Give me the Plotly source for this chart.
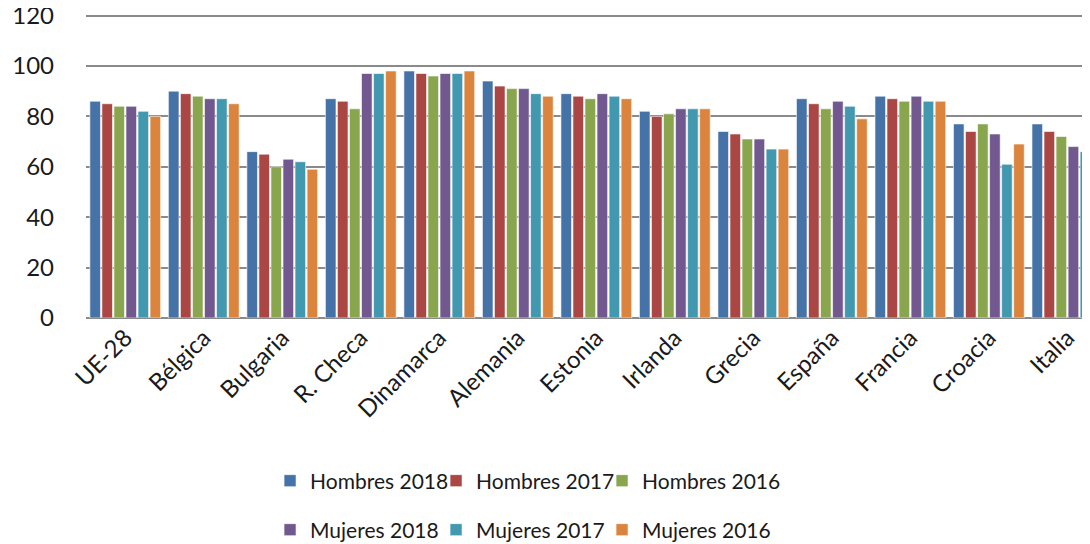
import plotly.graph_objects as go

categories = ["UE-28", "Bélgica", "Bulgaria", "R. Checa", "Dinamarca", "Alemania",
              "Estonia", "Irlanda", "Grecia", "España", "Francia", "Croacia", "Italia"]

hombres_2018 = [86, 90, 66, 87, 98, 94, 89, 82, 74, 87, 88, 77, 77]
hombres_2017 = [85, 89, 65, 86, 97, 92, 88, 80, 73, 85, 87, 74, 74]
hombres_2016 = [84, 88, 60, 83, 96, 91, 87, 81, 71, 83, 86, 77, 72]
mujeres_2018 = [84, 87, 63, 97, 97, 91, 89, 83, 71, 86, 88, 73, 68]
mujeres_2017 = [82, 87, 62, 97, 97, 89, 88, 83, 67, 84, 86, 61, 66]
mujeres_2016 = [80, 85, 59, 98, 98, 88, 87, 83, 67, 79, 86, 69, 62]

series = [
    ("Hombres 2018", hombres_2018, "#4572A7", "legend"),
    ("Hombres 2017", hombres_2017, "#AA4643", "legend"),
    ("Hombres 2016", hombres_2016, "#89A54E", "legend"),
    ("Mujeres 2018", mujeres_2018, "#71588F", "legend2"),
    ("Mujeres 2017", mujeres_2017, "#4198AF", "legend2"),
    ("Mujeres 2016", mujeres_2016, "#DB843D", "legend2"),
]

FONT = "Lato, Open Sans, sans-serif"

fig = go.Figure()
for name, vals, color, leg in series:
    fig.add_trace(go.Bar(
        name=name, x=categories, y=vals,
        marker=dict(color=color, line=dict(color="rgba(255,255,255,0.6)", width=1)),
        legend=leg,
    ))

# invisible spacer legend entries (scatter, so they take no bar slot)
for leg in ["legend", "legend2"]:
    fig.add_trace(go.Scatter(name=" ", x=[None], y=[None], legend=leg, showlegend=True,
                             mode="markers", marker=dict(color="rgba(0,0,0,0)"),
                             hoverinfo="skip"))

fig.update_layout(
    width=1090, height=544,
    margin=dict(l=78, r=0, t=5, b=234),
    paper_bgcolor="white", plot_bgcolor="white",
    barmode="group", bargap=0.08, bargroupgap=0.12,
    font=dict(family=FONT, size=21, color="#1a1a1a"),
    xaxis=dict(range=[-0.5, 12.39], tickangle=-45, showgrid=False, automargin=False,
               showline=False, ticks="", tickfont=dict(size=24)),
    yaxis=dict(range=[0, 121], tickvals=[0, 20, 40, 60, 80, 100, 120],
               showgrid=True, gridcolor="#8a8a8a", automargin=False,
               gridwidth=2, zeroline=True, zerolinecolor="#8a8a8a", zerolinewidth=2,
               ticks="", ticklabelstandoff=31, tickfont=dict(size=24),
               ticklabeloverflow="allow"),
    legend=dict(orientation="h", xref="container", yref="container",
                x=0.545, xanchor="center", y=1 - 473 / 544, yanchor="middle",
                font=dict(size=21), bgcolor="rgba(0,0,0,0)", entrywidth=121),
    legend2=dict(orientation="h", xref="container", yref="container",
                 x=0.545, xanchor="center", y=1 - 522 / 544, yanchor="middle",
                 font=dict(size=21), bgcolor="rgba(0,0,0,0)", entrywidth=121),
)

fig.write_html("out.html")
